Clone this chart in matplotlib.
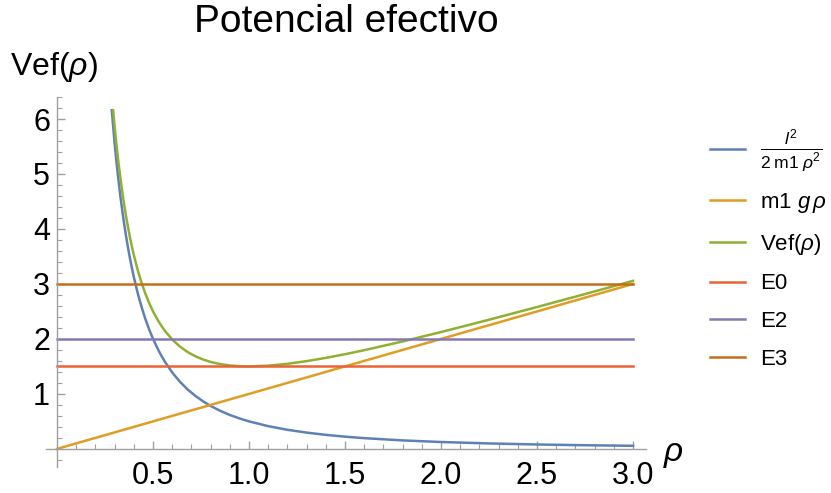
import matplotlib
matplotlib.use("Agg")
import matplotlib.pyplot as plt
from matplotlib.ticker import MultipleLocator

# =========================
# Data
# =========================

rho_blue = [0.285, 0.30, 0.31, 0.32, 0.33, 0.34, 0.35, 0.36, 0.37, 0.38, 0.39, 0.40, 0.42, 0.44,
            0.46, 0.48, 0.50, 0.53, 0.56, 0.60, 0.64, 0.68, 0.72, 0.76, 0.80, 0.85, 0.90, 0.95,
            1.0, 1.1, 1.2, 1.3, 1.4, 1.5, 1.6, 1.8, 2.0, 2.25, 2.5, 2.75, 3.0]
v_blue = [6.16, 5.556, 5.203, 4.883, 4.591, 4.325, 4.082, 3.858, 3.652, 3.463, 3.287, 3.125,
          2.834, 2.583, 2.363, 2.170, 2.000, 1.780, 1.594, 1.389, 1.221, 1.081, 0.965, 0.866,
          0.781, 0.692, 0.617, 0.554, 0.500, 0.413, 0.347, 0.296, 0.255, 0.222, 0.195, 0.154,
          0.125, 0.099, 0.080, 0.066, 0.056]

rho_green = [0.292, 0.30, 0.31, 0.32, 0.33, 0.34, 0.35, 0.36, 0.37, 0.38, 0.39, 0.40, 0.42, 0.44,
             0.46, 0.48, 0.50, 0.53, 0.56, 0.60, 0.64, 0.68, 0.72, 0.76, 0.80, 0.85, 0.90, 0.95,
             1.0, 1.1, 1.2, 1.3, 1.4, 1.5, 1.6, 1.8, 2.0, 2.25, 2.5, 2.75, 3.0]
v_green = [6.16, 5.856, 5.513, 5.203, 4.921, 4.665, 4.432, 4.218, 4.022, 3.843, 3.677, 3.525,
           3.254, 3.023, 2.823, 2.650, 2.500, 2.310, 2.154, 1.989, 1.861, 1.761, 1.685, 1.626,
           1.581, 1.542, 1.517, 1.504, 1.500, 1.513, 1.547, 1.596, 1.655, 1.722, 1.795, 1.954,
           2.125, 2.349, 2.580, 2.816, 3.056]

rho_line = [0.0, 3.0]
v_line = [0.0, 3.0]

energy_names = ["E0", "E2", "E3"]
energy_values = [1.5, 2.0, 3.0]

x_ticks = [0.5, 1.0, 1.5, 2.0, 2.5, 3.0]
y_ticks = [1, 2, 3, 4, 5, 6]

# Mathematica default palette
colors = ["#5E81B5", "#E19C24", "#8FB032", "#EB6235", "#8778B3", "#C56E1A"]

# =========================
# Style
# =========================

plt.rcParams["font.family"] = ["Liberation Sans", "DejaVu Sans"]
plt.rcParams["mathtext.fontset"] = "custom"
plt.rcParams["mathtext.rm"] = "Liberation Sans"
plt.rcParams["mathtext.it"] = "Liberation Sans:italic"

fig = plt.figure(figsize=(8.31, 4.93), dpi=100)
ax = fig.add_axes([0.0548, 0.0527, 0.7231, 0.7505])

lw = 1.8
ax.plot(rho_blue, v_blue, color=colors[0], lw=lw,
        label=r"$\frac{l^2}{2\;\mathrm{m1}\;\rho^2}$")
ax.plot(rho_line, v_line, color=colors[1], lw=lw, label=r"m1 $g\,\rho$")
ax.plot(rho_green, v_green, color=colors[2], lw=lw, label=r"Vef($\rho$)")
for i, (name, e) in enumerate(zip(energy_names, energy_values)):
    ax.plot([0, 3], [e, e], color=colors[3 + i], lw=lw, label=name)

ax.set_xlim(-0.06, 3.07)
ax.set_ylim(-0.33, 6.4)

# Mathematica-like axes through the origin
for side in ["top", "right"]:
    ax.spines[side].set_visible(False)
ax.spines["left"].set_position(("data", 0))
ax.spines["bottom"].set_position(("data", 0))
for side in ["left", "bottom"]:
    ax.spines[side].set_color("#a0a0a0")
    ax.spines[side].set_linewidth(1.0)

ax.set_xticks(x_ticks)
ax.set_xticklabels([f"{t:.1f}" for t in x_ticks])
ax.set_yticks(y_ticks)
ax.set_yticklabels([str(t) for t in y_ticks])
ax.xaxis.set_minor_locator(MultipleLocator(0.1))
ax.yaxis.set_minor_locator(MultipleLocator(0.2))
ax.tick_params(which="major", direction="in", length=6, width=1.0, color="#a0a0a0",
               labelsize=22, pad=9)
ax.tick_params(which="minor", direction="in", length=3.5, width=0.8, color="#a0a0a0")
ax.tick_params(axis="y", pad=5)

# Axis labels and title
fig.text(10 / 831, 1 - 67 / 493, r"Vef($\rho$)", fontsize=23, ha="left", va="center")
fig.text(673 / 831, 1 - 454 / 493, r"$\rho$", fontsize=24, ha="center", va="center")
fig.text(346 / 831, 1 - 22 / 493, "Potencial efectivo", fontsize=28, ha="center", va="center")

leg = fig.legend(loc="center left", bbox_to_anchor=(0.830, 0.495), frameon=False,
                 fontsize=16, handlelength=1.58, handletextpad=0.68, labelspacing=0.75)
leg.get_texts()[0].set_fontsize(18)

fig.savefig("out.png", dpi=100)
